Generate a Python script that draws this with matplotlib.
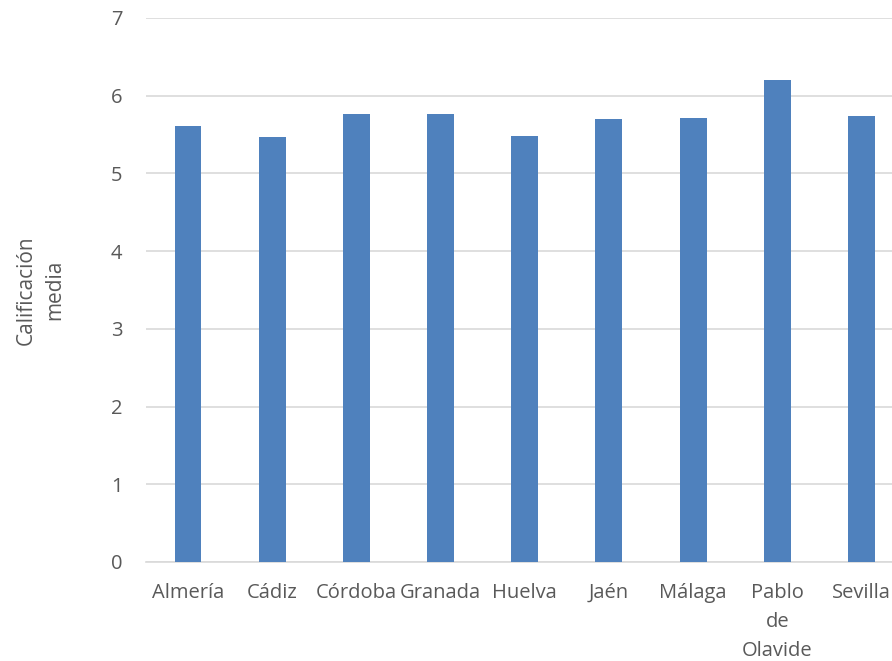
import matplotlib.pyplot as plt
import numpy as np

plt.rcParams['font.family'] = ['Open Sans', 'DejaVu Sans']

universidades = ['Almería', 'Cádiz', 'Córdoba', 'Granada', 'Huelva',
                 'Jaén', 'Málaga', 'Pablo\nde\nOlavide', 'Sevilla']
calificacion = [5.61, 5.47, 5.76, 5.76, 5.48, 5.70, 5.71, 6.20, 5.74]

gris = '#595959'

fig = plt.figure(figsize=(8.92, 6.61), dpi=100)
ax = fig.add_axes([0.1636, 0.1498, 0.8494, 0.8230])

x = np.arange(len(universidades))
ax.bar(x, calificacion, width=0.32, color='#4f81bd', zorder=3)

ax.set_xlim(-0.5, len(universidades) - 0.5)
ax.set_ylim(0, 7)
ax.set_yticks(range(0, 8))
ax.yaxis.grid(True, color='#d9d9d9', linewidth=1.2, zorder=0)
ax.set_xticks(x)
ax.set_xticklabels(universidades, linespacing=1.6)

for s in ['top', 'right', 'left']:
    ax.spines[s].set_visible(False)
ax.spines['bottom'].set_color('#d9d9d9')
ax.spines['bottom'].set_linewidth(1.2)

ax.tick_params(axis='both', length=0, labelsize=14.5, colors=gris)
ax.tick_params(axis='y', pad=17)
ax.tick_params(axis='x', pad=15)

ax.set_ylabel('Calificación\nmedia', fontsize=15, color=gris, linespacing=1.45)
ax.yaxis.label.set_va('center')
ax.yaxis.set_label_coords(-0.139, 0.5)

fig.savefig('out.png', dpi=100)
